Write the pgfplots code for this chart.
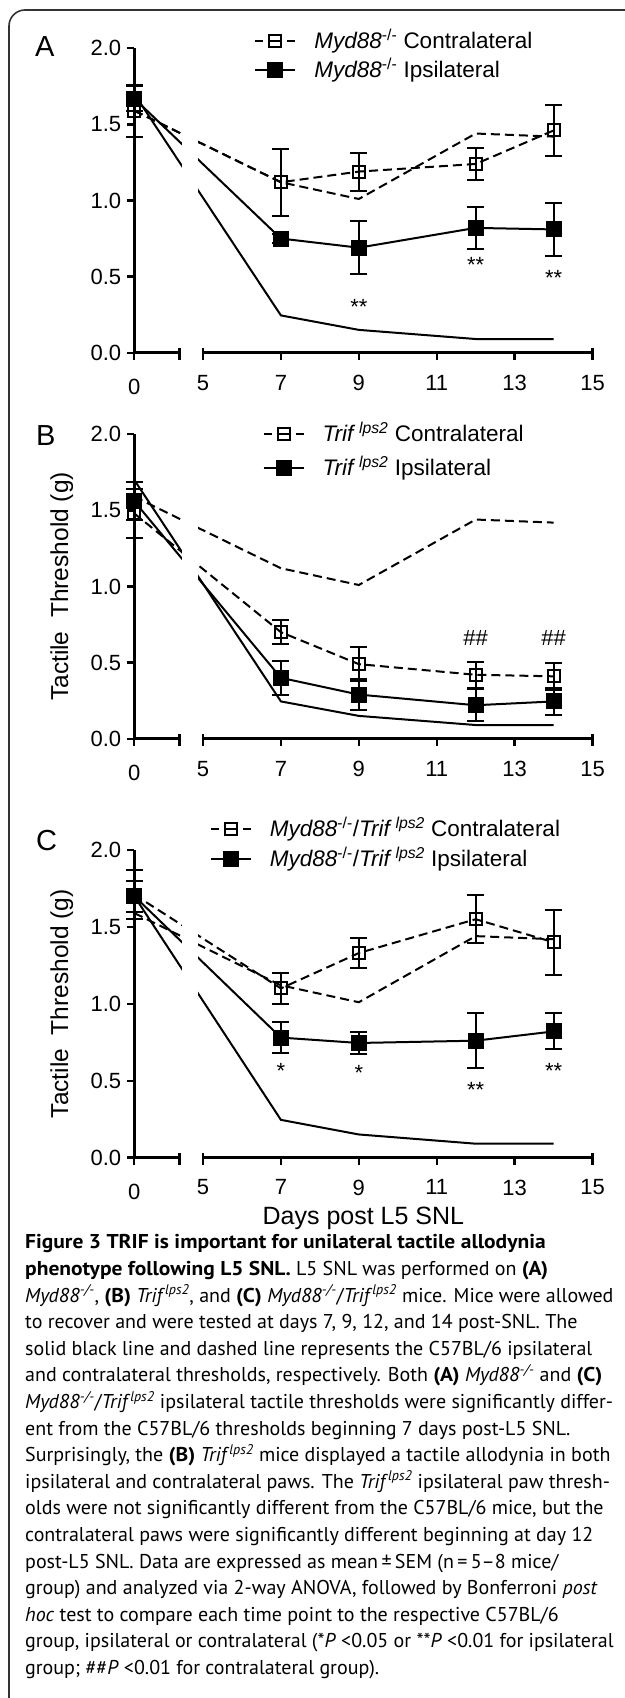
\documentclass[border=0pt]{standalone}
\usepackage{fontspec}
\setmainfont{Liberation Sans}
\newfontfamily\capfont{PT Sans}[BoldFeatures={FakeStretch=1.075}]
\usepackage{pgfplots}
\pgfplotsset{compat=1.18}

% legend / caption names
\newcommand\myd{\textit{Myd88}\textsuperscript{-/-}}
\newcommand\trif{\textit{Trif}\,\textsuperscript{\textit{lps2}}}
\newcommand\cmyd{\textit{Myd88}\textsuperscript{\textit{-/-}}}
\newcommand\ctrif{\textit{Trif}\textsuperscript{\textit{lps2}}}

% broken x axis: day 0 sits on the y axis, the gap is masked
\newcommand\brokenaxis{%
  \fill[white] (axis cs:4.47,0.5) rectangle (axis cs:4.87,1.9);
  \draw[line width=2.5bp] (axis cs:0,0) -- (axis cs:1.158,0);
  \draw[line width=2.5bp] (axis cs:5,0) -- (axis cs:15,0);
  \draw[line width=2.3bp] (axis cs:1.158,0) -- ++(0,5bp);
  \draw[line width=2.3bp] (axis cs:5,0) -- ++(0,5bp);
  \draw[line width=2.3bp] (axis cs:15,0) -- ++(0,5bp);
}

\pgfplotsset{
  panel/.style={
    scale only axis, width=458.2bp, clip=false,
    xmin=0, xmax=15, ymin=0, ymax=2,
    x coord trafo/.code={\pgfmathparse{(##1<2)*(##1+3.236)+(##1>=2)*(##1)}},
    axis x line*=bottom, axis y line*=left, separate axis lines,
    x axis line style={draw=none},
    y axis line style={line width=2.5bp, -},
    tick align=outside, major tick length=7bp,
    every tick/.style={black, line width=2.3bp},
    xtick={1.158,5,7,9,11,13,15},
    xticklabels={{},5,7,9,11,13,15},
    extra x ticks={0}, extra x tick labels={0},
    extra x tick style={xticklabel style={yshift=-4bp}},
    ytick={0,0.5,1,1.5,2}, yticklabels={0.0,0.5,1.0,1.5,2.0},
    tick label style={font=\fontsize{22bp}{24bp}\selectfont},
    xticklabel style={inner sep=0pt, anchor=north, yshift=-15bp},
    yticklabel style={inner sep=0pt, anchor=east, xshift=-6bp},
    legend cell align=left,
    legend style={draw=none, fill=none, inner sep=0pt, outer sep=0pt,
      font=\fontsize{22.5bp}{24bp}\selectfont,
      nodes={inner sep=0pt, text height=19bp, text depth=5bp}},
    legend image code/.code={%
      \draw[mark repeat=2, mark phase=2, ##1] plot coordinates {(0bp,0bp) (20bp,0bp) (40bp,0bp)};
      \path (58bp,0bp);},
    ylabel style={at={(axis description cs:-0.158,0.5)}, anchor=center,
      font=\fontsize{24.5bp}{26bp}\selectfont},
    xlabel style={at={(axis description cs:0.5,-0.197)}, anchor=center,
      font=\fontsize{25bp}{27bp}\selectfont},
    every error bar/.append style={line width=2bp, solid, black},
  },
  c57contra/.style={forget plot, black, line width=2bp, dash pattern=on 9bp off 5bp, mark=none},
  c57ipsi/.style={forget plot, black, line width=2bp, solid, mark=none},
  contra/.style={black, line width=2bp, dash pattern=on 9bp off 5bp,
    mark=square, mark size=6bp, mark options={solid, line width=2bp},
    legend image post style={dash pattern=on 8bp off 5bp on 14bp off 5bp on 8bp},
    error bars/.cd, y dir=both, y explicit,
    error bar style={solid, line width=2bp},
    error mark options={rotate=90, solid, line width=2bp, mark size=8.5bp}},
  ipsi/.style={black, line width=2bp, solid,
    mark=square*, mark size=7bp, mark options={solid, fill=black},
    error bars/.cd, y dir=both, y explicit,
    error bar style={solid, line width=2bp},
    error mark options={rotate=90, solid, line width=2bp, mark size=8.5bp}},
}

\begin{document}
\begin{tikzpicture}[x=1bp, y=1bp]
\draw[line width=1.6bp, black!80, rounded corners=16bp] (9,-1710) -- (9,-10) -- (640,-10);

\node[anchor=base west, font=\fontsize{29bp}{30bp}\selectfont, inner sep=0pt] at (35,-56.5) {A};
\node[anchor=base west, font=\fontsize{29bp}{30bp}\selectfont, inner sep=0pt] at (36,-445) {B};
\node[anchor=base west, font=\fontsize{29bp}{30bp}\selectfont, inner sep=0pt] at (36,-850) {C};

% ---------------- A
\begin{axis}[panel, at={(134.3bp,-352.7bp)}, anchor=south west, height=304.4bp,
  legend style={at={(axis description cs:0.262,0.976)}, anchor=west, row sep=5bp}]
\addplot[c57contra] coordinates {(0,1.59)(7,1.12)(9,1.01)(12,1.44)(14,1.42)};
\addplot[c57ipsi] coordinates {(0,1.70)(7,0.245)(9,0.15)(12,0.09)(14,0.09)};
\addplot[contra] coordinates {
  (0,1.59) +- (0,0.17) (7,1.12) +- (0,0.22) (9,1.19) +- (0,0.125)
  (12,1.24) +- (0,0.105) (14,1.46) +- (0,0.17)};
\addlegendentry{\myd{} Contralateral}
\addplot[ipsi] coordinates {
  (0,1.67) +- (0,0.08) (7,0.75) +- (0,0.03) (9,0.69) +- (0,0.175)
  (12,0.82) +- (0,0.14) (14,0.81) +- (0,0.175)};
\addlegendentry{\myd{} Ipsilateral}
\brokenaxis
\node[font=\fontsize{22bp}{24bp}\selectfont] at (axis cs:9,0.30) {**};
\node[font=\fontsize{22bp}{24bp}\selectfont] at (axis cs:12,0.58) {**};
\node[font=\fontsize{22bp}{24bp}\selectfont] at (axis cs:14,0.49) {**};
\end{axis}

% ---------------- B
\begin{axis}[panel, at={(134.3bp,-738.7bp)}, anchor=south west, height=304.4bp,
  ylabel={Tactile\ \ Threshold (g)},
  legend style={at={(axis description cs:0.28,0.944)}, anchor=west, row sep=10bp}]
\addplot[c57contra] coordinates {(0,1.59)(7,1.12)(9,1.01)(12,1.44)(14,1.42)};
\addplot[c57ipsi] coordinates {(0,1.70)(7,0.245)(9,0.15)(12,0.09)(14,0.09)};
\addplot[contra] coordinates {
  (0,1.48) +- (0,0.16) (7,0.70) +- (0,0.08) (9,0.49) +- (0,0.11)
  (12,0.42) +- (0,0.085) (14,0.41) +- (0,0.09)};
\addlegendentry{\trif{} Contralateral}
\addplot[ipsi] coordinates {
  (0,1.56) +- (0,0.125) (7,0.40) +- (0,0.11) (9,0.29) +- (0,0.10)
  (12,0.22) +- (0,0.105) (14,0.245) +- (0,0.09)};
\addlegendentry{\trif{} Ipsilateral}
\brokenaxis
\node[font=\fontsize{22bp}{24bp}\selectfont] at (axis cs:12,0.66) {\#\#};
\node[font=\fontsize{22bp}{24bp}\selectfont] at (axis cs:14,0.66) {\#\#};
\end{axis}

% ---------------- C
\begin{axis}[panel, at={(134.3bp,-1157.5bp)}, anchor=south west, height=307.5bp,
  ylabel={Tactile\ \ Threshold (g)}, xlabel={Days post L5 SNL},
  legend style={at={(axis description cs:0.165,1.019)}, anchor=west, row sep=5.7bp}]
\addplot[c57contra] coordinates {(0,1.59)(7,1.12)(9,1.01)(12,1.44)(14,1.42)};
\addplot[c57ipsi] coordinates {(0,1.70)(7,0.245)(9,0.15)(12,0.09)(14,0.09)};
\addplot[contra] coordinates {
  (0,1.71) +- (0,0.16) (7,1.10) +- (0,0.10) (9,1.33) +- (0,0.097)
  (12,1.55) +- (0,0.155) (14,1.40) +- (0,0.21)};
\addlegendentry{\myd/\trif{} Contralateral}
\addplot[ipsi] coordinates {
  (0,1.70) +- (0,0.10) (7,0.78) +- (0,0.10) (9,0.745) +- (0,0.07)
  (12,0.76) +- (0,0.178) (14,0.82) +- (0,0.117)};
\addlegendentry{\myd/\trif{} Ipsilateral}
\brokenaxis
\node[font=\fontsize{22bp}{24bp}\selectfont] at (axis cs:7,0.56) {*};
\node[font=\fontsize{22bp}{24bp}\selectfont] at (axis cs:9,0.55) {*};
\node[font=\fontsize{22bp}{24bp}\selectfont] at (axis cs:12,0.44) {**};
\node[font=\fontsize{22bp}{24bp}\selectfont] at (axis cs:14,0.565) {**};
\end{axis}

% ---------------- caption
\node[anchor=north west, align=left, inner sep=0pt,
  font=\capfont\fontsize{20bp}{26.6bp}\selectfont] at (25,-1234.5) {%
\textbf{Figure 3 TRIF is important for unilateral tactile allodynia}\\
\textbf{phenotype following L5 SNL.} L5 SNL was performed on \textbf{(A)}\\
\cmyd, \textbf{(B)} \ctrif, and \textbf{(C)} \cmyd/\ctrif{} mice. Mice were allowed\\
to recover and were tested at days 7, 9, 12, and 14 post-SNL. The\\
solid black line and dashed line represents the C57BL/6 ipsilateral\\
and contralateral thresholds, respectively. Both \textbf{(A)} \cmyd{} and \textbf{(C)}\\
\cmyd/\ctrif{} ipsilateral tactile thresholds were significantly differ-\\
ent from the C57BL/6 thresholds beginning 7 days post-L5 SNL.\\
Surprisingly, the \textbf{(B)} \ctrif{} mice displayed a tactile allodynia in both\\
ipsilateral and contralateral paws. The \ctrif{} ipsilateral paw thresh-\\
olds were not significantly different from the C57BL/6 mice, but the\\
contralateral paws were significantly different beginning at day 12\\
post-L5 SNL. Data are expressed as mean\,±\,SEM (n\,=\,5–8 mice/\\
group) and analyzed via 2-way ANOVA, followed by Bonferroni \textit{post}\\
\textit{hoc} test to compare each time point to the respective C57BL/6\\
group, ipsilateral or contralateral (*\textit{P} <0.05 or **\textit{P} <0.01 for ipsilateral\\
group; \#\#\textit{P} <0.01 for contralateral group).};

\pgfresetboundingbox
\path[use as bounding box] (0,0) rectangle (625,-1698);
\end{tikzpicture}
\end{document}
